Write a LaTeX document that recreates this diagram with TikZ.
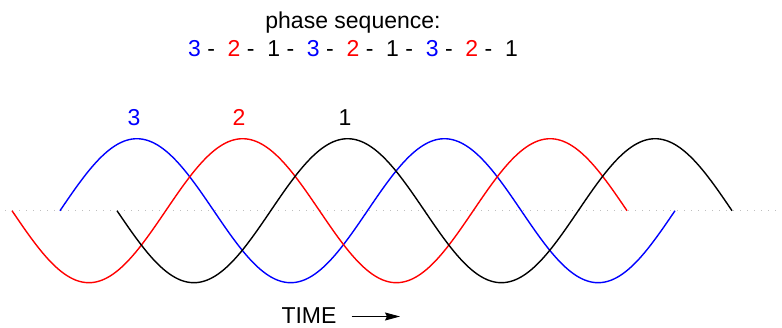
\documentclass[tikz,border=0pt]{standalone}
\usepackage{fontspec}
\setmainfont{Liberation Sans}
\usepackage{xcolor}
\usetikzlibrary{
	arrows.meta,
	positioning
}

\begin{document}
\begin{tikzpicture}[x=1pt, y=-1pt,
	wave/.style={line width=1.4pt, smooth, samples=240},
	lbl/.style={font=\fontsize{23}{27}\selectfont, inner sep=0pt, anchor=base},
	axisline/.style={gray!50, line width=1pt, dash pattern=on 1.2pt off 5.8pt}]
	\useasboundingbox (0,0) rectangle (782,327);
	% zero line
	\coordinate (ax0) at (5,210.7);
	\coordinate (ax1) at (780,210.7);
	\draw[axisline] (ax0) -- (ax1);
	% the three phases
	\foreach \col/\start/\amp in {blue/60/-72, red/12/72, black/117/72}
	\draw[wave, \col, domain=0:615] plot (\x+\start, {210.7+\amp*sin(\x/307.5*360)});
	% phase labels
	\node[lbl, blue] (p3) at (134,125.7) {3};
	\node[lbl, red] (p2) at (239,125.7) {2};
	\node[lbl] (p1) at (345,125.7) {1};
	% title
	\node[lbl] (title) at (353,28.3) {phase sequence:};
	\node[lbl] (seq) at (353,56) {\textcolor{blue}{3} -\ \ \textcolor{red}{2} -\ \ 1 -\ \ \textcolor{blue}{3} -\ \ \textcolor{red}{2} -\ \ 1 -\ \ \textcolor{blue}{3} -\ \ \textcolor{red}{2} -\ \ 1};
	% time axis
	\node[lbl] (time) at (309,323) {TIME};
	\coordinate (tend) at (400,316.5);
	\draw[-{Stealth[length=15pt, width=8pt, inset=2pt]}, line width=1pt] ([xshift=15pt]time.east |- tend) -- (tend);
\end{tikzpicture}
\end{document}
